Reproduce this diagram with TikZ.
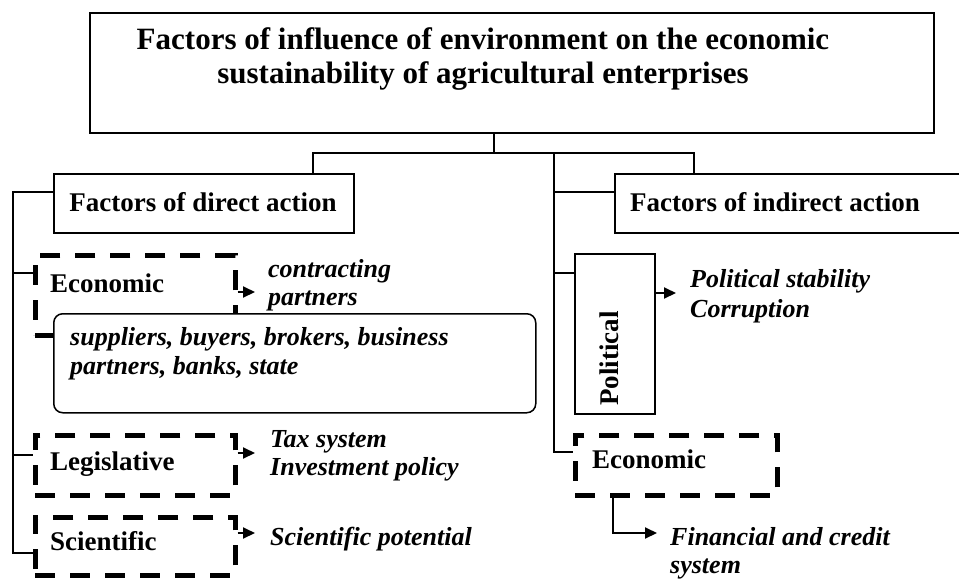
\documentclass[tikz,border=0pt]{standalone}
\usepackage{fontspec}
\setmainfont{Liberation Serif}
\usetikzlibrary{arrows.meta,calc}
\tikzset{
  thin line/.style={line width=1.5pt},
  box/.style={draw, line width=1.5pt, inner sep=0pt},
  dbox/.style={draw, line width=4.5pt, dash pattern=on 20pt off 15pt, inner sep=0pt},
  bt/.style={font=\fontsize{27}{32}\selectfont\bfseries, inner sep=0pt, align=left},
  it/.style={font=\fontsize{26}{28}\selectfont\bfseries\itshape, inner sep=0pt, align=left},
  arr/.style={line width=2pt, -{Triangle[length=12pt,width=11pt]}},
}
\begin{document}
\begin{tikzpicture}[x=1pt,y=-1pt]
\useasboundingbox (0,0) rectangle (959,579);
% title
\node[box, minimum width=844pt, minimum height=120pt] (title) at (512,73) {};
\node[font=\fontsize{31}{34}\selectfont\bfseries, align=center, inner sep=0pt, anchor=base] (titletext) at (483,83)
  {Factors of influence of environment on the economic\\sustainability of agricultural enterprises};
% level 1
\node[box, minimum width=300pt, minimum height=59pt, anchor=north west] (direct) at (53,173) {};
\node[bt, anchor=base] (directtext) at (203,211) {Factors of direct action};
\node[box, minimum width=348pt, minimum height=59pt, anchor=north west] (indirect) at (614,173) {};
\node[bt, anchor=base west] (indirecttext) at (630,211) {Factors of indirect action};
% left group
\node[dbox, minimum width=200pt, minimum height=80pt, anchor=north west] (econ) at (33,253) {};
\node[bt, anchor=base west] (econtext) at (50,292) {Economic};
\node[box, rounded corners=9pt, fill=white, minimum width=482pt, minimum height=99pt, anchor=north west] (partners) at (53,313) {};
\node[it, font=\fontsize{26}{29}\selectfont\bfseries\itshape, anchor=base west] (partnerstext) at (70,374) {suppliers, buyers, brokers, business\\partners, banks, state};
\node[dbox, minimum width=200pt, minimum height=60pt, anchor=north west] (leg) at (33,433) {};
\node[bt, anchor=base west] (legtext) at (50,470) {Legislative};
\node[dbox, minimum width=200pt, minimum height=58pt, anchor=north west] (sci) at (33,515) {};
\node[bt, anchor=base west] (scitext) at (50,550) {Scientific};
\node[it, anchor=base west] (contr) at (268,305) {contracting\\partners};
\node[it, anchor=base west] (tax) at (270,475) {Tax system\\Investment policy};
\node[it, anchor=base west] (scipot) at (270,545) {Scientific potential};
% right group
\node[box, minimum width=80pt, minimum height=160pt, anchor=north west] (pol) at (574,253) {};
\node[bt, rotate=90, anchor=base west] (poltext) at (618,406) {Political};
\node[it, font=\fontsize{26}{30}\selectfont\bfseries\itshape, anchor=base west] (polstab) at (690,317) {Political stability\\Corruption};
\node[dbox, minimum width=202pt, minimum height=60pt, anchor=north west] (econ2) at (573,433) {};
\node[bt, anchor=base west] (econ2text) at (592,468) {Economic};
\node[it, anchor=base west] (fin) at (670,573) {Financial and credit\\system};
% connectors top
\coordinate (stem) at (494,153);
\coordinate (j1) at (313,153);
\coordinate (j2) at (694,153);
\draw[thin line] (title.south -| stem) -- (stem);
\draw[thin line] (j1 |- direct.north) -- (j1) -- (j2) -- (j2 |- indirect.north);
% left trunk
\coordinate (b1) at (13,192);
\coordinate (b2) at (13,273);
\coordinate (b3) at (13,455);
\coordinate (b4) at (13,553);
\draw[thin line] (b1 -| direct.west) -- (b1) -- (b4) -- (b4 -| sci.west);
\draw[thin line] (b2) -- (b2 -| econ.west);
\draw[thin line] (b3) -- (b3 -| leg.west);
% right trunk
\coordinate (r0) at (554,153);
\coordinate (r1) at (554,192);
\coordinate (r2) at (554,273);
\coordinate (r3) at (554,452);
\draw[thin line] (r0) -- (r3) -- (r3 -| econ2.west);
\draw[thin line] (r1) -- (r1 -| indirect.west);
\draw[thin line] (r2) -- (r2 -| pol.west);
% arrows
\coordinate (a1) at (255,292);
\coordinate (a2) at (255,453);
\coordinate (a3) at (255,533);
\coordinate (a4) at (676,293);
\coordinate (a5) at (613,533);
\coordinate (a6) at (657,533);
\draw[arr] (econ.east |- a1) -- (a1);
\draw[arr] (leg.east |- a2) -- (a2);
\draw[arr] (sci.east |- a3) -- (a3);
\draw[arr] (pol.east |- a4) -- (a4);
\draw[arr] (a5 |- econ2.south) -- (a5) -- (a6);
\end{tikzpicture}
\end{document}
